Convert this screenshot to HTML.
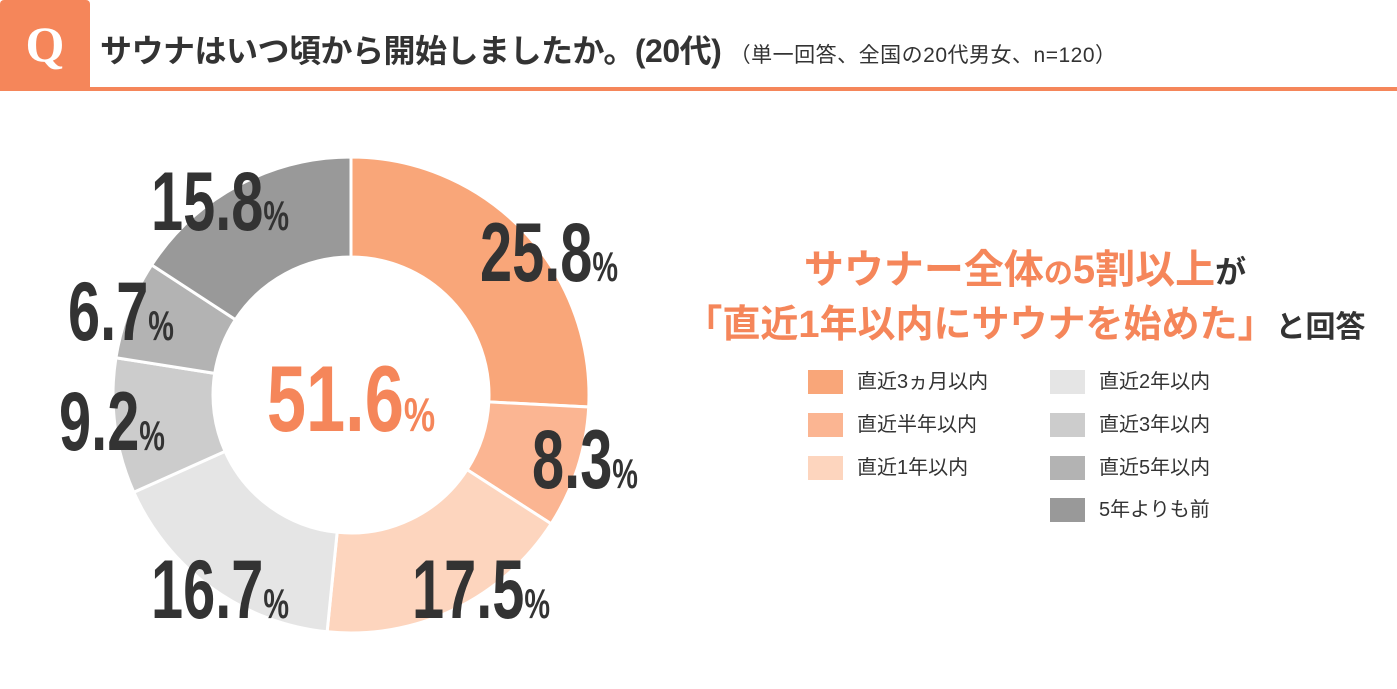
<!DOCTYPE html>
<html><head><meta charset="utf-8"><style>
body{margin:0;width:1397px;height:689px;background:#fff;overflow:hidden;font-family:"Liberation Sans","Noto Sans CJK JP",sans-serif;position:relative}
.q{position:absolute;left:0;top:0;width:90px;height:88px;background:#F5865A;border-radius:4px 4px 0 0;color:#fff;font:bold 50px "Liberation Serif",serif;text-align:center;line-height:88px}
.hl{position:absolute;left:0;top:87px;width:1397px;height:4px;background:#F5865A}
.title{position:absolute;left:100px;top:26px;font-weight:bold;font-size:32px;color:#333;white-space:nowrap;letter-spacing:-0.5px}
.title small{font-size:21px;font-weight:normal;letter-spacing:0.5px}
.head{position:absolute;left:640px;width:770px;text-align:center;font-weight:bold;color:#F5865A;white-space:nowrap;line-height:44px}
.dk{color:#333}
.lg{position:absolute;font-size:20px;color:#333;white-space:nowrap;line-height:24px}
.lg i{display:inline-block;width:35px;height:24px;vertical-align:top;margin-right:14px}
</style></head><body>
<div class="q">Q</div>
<div class="hl"></div>
<div class="title">サウナはいつ頃から開始しましたか。(20代) <small>（単一回答、全国の20代男女、n=120）</small></div>
<div class="head" style="top:248px;font-size:40px">サウナー全体<span style="font-size:29px">の</span>5割以上<span class="dk" style="font-size:31px">が</span></div>
<div class="head" style="top:303px;font-size:38px">「直近1年以内にサウナを始めた」<span class="dk" style="font-size:30px">と回答</span></div>
<div id="legend"></div>
<svg id="chart" width="1397" height="689" style="position:absolute;left:0;top:0"></svg>
<script>
const categories=["直近3ヵ月以内","直近半年以内","直近1年以内","直近2年以内","直近3年以内","直近5年以内","5年よりも前"];
const values=[25.8,8.3,17.5,16.7,9.2,6.7,15.8];
const labels=["25.8","8.3","17.5","16.7","9.2","6.7","15.8"];
const centerValue="51.6";
const colors=["#F9A679","#FBB592","#FDD5BE","#E5E5E5","#CCCCCC","#B3B3B3","#999999"];
const labelPos=[[549,281],[585,488],[481,618],[220,618],[112,450],[121,340],[220,230]];
const legendPos=[[808,370],[808,413],[808,456],[1050,370],[1050,413],[1050,456],[1050,498]];
const cx=351,cy=395,R=238,r=138,ns="http://www.w3.org/2000/svg",svg=document.getElementById('chart');
const total=values.reduce((a,b)=>a+b,0);
function pt(a,rad){return [cx+rad*Math.sin(a),cy-rad*Math.cos(a)];}
let a0=0;
values.forEach((v,i)=>{
 const a1=a0+v/total*2*Math.PI,lg=a1-a0>Math.PI?1:0;
 const p1=pt(a0,R),p2=pt(a1,R),p3=pt(a1,r),p4=pt(a0,r);
 const p=document.createElementNS(ns,'path');
 p.setAttribute('d',`M${p1}A${R},${R} 0 ${lg} 1 ${p2}L${p3}A${r},${r} 0 ${lg} 0 ${p4}Z`);
 p.setAttribute('fill',colors[i]);p.setAttribute('stroke','#fff');p.setAttribute('stroke-width','3');
 
 
 svg.appendChild(p);a0=a1;
});
function lab(txt,x,y,fs,col,name,sx){
 const t=document.createElementNS(ns,'text');
 t.setAttribute('x',0);t.setAttribute('y',0);t.setAttribute('text-anchor','middle');
 t.setAttribute('transform',`translate(${x},${y}) scale(${sx},1.07)`);
 t.setAttribute('fill',col);
 t.setAttribute('style',`font-family:"Liberation Sans",sans-serif;font-weight:bold;font-size:${fs}px`);
 t.innerHTML=txt+`<tspan style="font-size:${fs*0.5}px">%</tspan>`;
 
 
 svg.appendChild(t);
}
labels.forEach((l,i)=>lab(l,labelPos[i][0],labelPos[i][1],78,'#333','label-'+i,0.74));
lab(centerValue,351,431,88,'#F5865A','center-value',0.8);
const lgd=document.getElementById('legend');
categories.forEach((c,i)=>{
 const d=document.createElement('div');d.className='lg';
 d.style.left=legendPos[i][0]+'px';d.style.top=legendPos[i][1]+'px';
 d.innerHTML=`<i style="background:${colors[i]}"></i>${c}`;
 
 
 lgd.appendChild(d);
});
</script>
</body></html>
